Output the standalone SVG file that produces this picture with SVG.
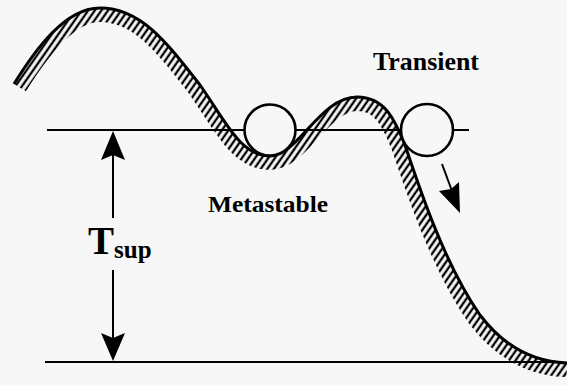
<svg xmlns="http://www.w3.org/2000/svg" width="567" height="385" viewBox="0 0 567 385">
  <style>
    .ink { stroke: #000; fill: none; }
    .lbl { font-family: "Liberation Serif", "Times New Roman", serif; font-weight: bold; fill: #000; }
    .ball { fill: #f6f7f6; stroke: #000; stroke-width: 2.6; }
  </style>
  <defs>
    <pattern id="hatch" patternUnits="userSpaceOnUse" width="5.4" height="10" patternTransform="rotate(35)">
      <rect x="1.5" y="0" width="2.3" height="10" fill="#000"/>
    </pattern>
    <clipPath id="under">
      <path d="M14,84 C35,50 65,8 100,8 C140,8 165,40 200,85 C225,120 240,156 270,156 C298,156 320,97 357,97 C385,97 395,120 405,145 C420,190 445,265 480,315 C505,348 535,362 567,363 L567,385 L14,385 Z"/>
    </clipPath>
  </defs>
  <rect width="567" height="385" fill="#f6f7f6"/>

  <g id="levels" class="ink" stroke-width="1.8">
    <line x1="47" y1="130" x2="469" y2="130"/>
    <line x1="45" y1="362" x2="560" y2="362"/>
  </g>

  <g id="landscape">
    <path clip-path="url(#under)" d="M14,84 C35,50 65,8 100,8 C140,8 165,40 200,85 C225,120 240,156 270,156 C298,156 320,97 357,97 C385,97 395,120 405,145 C420,190 445,265 480,315 C505,348 535,362 567,363" fill="none" stroke="url(#hatch)" stroke-width="28"/>
    <path class="ink" stroke-width="3" d="M14,84 C35,50 65,8 100,8 C140,8 165,40 200,85 C225,120 240,156 270,156 C298,156 320,97 357,97 C385,97 395,120 405,145 C420,190 445,265 480,315 C505,348 535,362 567,363"/>
  </g>

  <g id="ball-metastable">
    <circle class="ball" cx="270" cy="130" r="25.5"/>
  </g>
  <g id="ball-transient">
    <circle class="ball" cx="427" cy="130" r="26"/>
  </g>

  <g id="label-transient">
    <text class="lbl" x="373" y="70" font-size="25" textLength="106" lengthAdjust="spacingAndGlyphs">Transient</text>
  </g>
  <g id="label-metastable">
    <text class="lbl" x="208" y="212" font-size="24" textLength="120" lengthAdjust="spacingAndGlyphs">Metastable</text>
  </g>
  <g id="label-tsup">
    <text class="lbl" x="88" y="254" font-size="39">T<tspan font-size="25" dy="4">sup</tspan></text>
  </g>

  <g id="connectors">
    <g class="ink" stroke-width="2">
      <line x1="113" y1="152" x2="113" y2="218"/>
      <line x1="113" y1="270" x2="113" y2="340"/>
      <line x1="442" y1="164" x2="452" y2="191"/>
    </g>
    <g fill="#000">
      <path d="M113,131 L125,160 L113,155 L101,160 Z"/>
      <path d="M113,361 L125,333 L113,338 L101,333 Z"/>
      <path d="M460,213 L439,191 L451,189 L459,182 Z"/>
    </g>
  </g>
</svg>
